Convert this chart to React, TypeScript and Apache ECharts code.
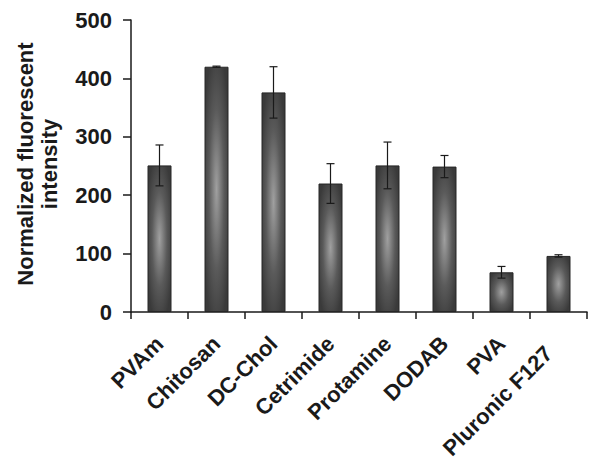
import React, { useEffect, useRef } from "react";
import * as echarts from "echarts";

const categories = ["PVAm", "Chitosan", "DC-Chol", "Cetrimide", "Protamine", "DODAB", "PVA", "Pluronic F127"];
const values = [251, 420, 376, 220, 251, 249, 68, 96];
const errors = [35, 1, 44, 34, 40, 19, 10, 2];
const yTicks = [0, 100, 200, 300, 400, 500];

export default function App() {
  const ref = useRef<HTMLDivElement>(null);
  useEffect(() => {
    if (!ref.current) return;
    const chart = echarts.init(ref.current, null, { renderer: "svg" });
    const font = "Arial, 'Liberation Sans', Helvetica, sans-serif";
    const errData = values.map((v, i) => [i, v - errors[i], v + errors[i]]);
    const catData = categories.map((c, i) =>
      i === categories.length - 1 ? { value: c, textStyle: { padding: [0, 14, 0, 0] } } : c
    );
    chart.setOption({
      animation: false,
      backgroundColor: "#ffffff",
      grid: { left: 131, right: 14, top: 20, bottom: 155, containLabel: false },
      xAxis: {
        type: "category",
        data: catData,
        axisLine: { lineStyle: { color: "#1a1a1a", width: 1.5 } },
        axisTick: { show: true, length: 7, lineStyle: { color: "#1a1a1a", width: 1.5 } },
        axisLabel: {
          rotate: 45,
          margin: 28,
          color: "#1a1a1a",
          fontFamily: font,
          fontWeight: "bold",
          fontSize: 22,
          interval: 0,
        },
      },
      yAxis: {
        type: "value",
        min: yTicks[0],
        max: yTicks[yTicks.length - 1],
        interval: 100,
        splitLine: { show: false },
        axisLine: { show: true, lineStyle: { color: "#1a1a1a", width: 1.5 } },
        axisTick: { show: true, length: 8, lineStyle: { color: "#1a1a1a", width: 1.5 } },
        axisLabel: {
          margin: 19,
          color: "#1a1a1a",
          fontFamily: font,
          fontWeight: "bold",
          fontSize: 22,
        },
      },
      graphic: [
        {
          type: "text",
          x: 37,
          y: 164,
          rotation: Math.PI / 2,
          style: {
            text: "Normalized fluorescent\nintensity",
            fill: "#1a1a1a",
            font: `bold 22px ${font}`,
            align: "center",
            verticalAlign: "middle",
            lineHeight: 24,
          },
        },
      ],
      series: [
        {
          type: "bar",
          data: values,
          barWidth: 24,
          itemStyle: {
            color: {
              type: "radial",
              x: 0.5,
              y: 0.5,
              r: 0.6,
              colorStops: [
                { offset: 0, color: "#a0a0a0" },
                { offset: 0.55, color: "#5a5a5a" },
                { offset: 1, color: "#3a3a3a" },
              ],
            },
            borderColor: "#262626",
            borderWidth: 1,
          },
        },
        {
          type: "custom",
          data: errData,
          z: 10,
          renderItem: (params: any, api: any) => {
            const x = api.value(0);
            const lo = api.coord([x, api.value(1)]);
            const hi = api.coord([x, api.value(2)]);
            const cap = 4;
            const style = { stroke: "#1a1a1a", lineWidth: 1.2 };
            return {
              type: "group",
              children: [
                { type: "line", shape: { x1: hi[0], y1: hi[1], x2: lo[0], y2: lo[1] }, style },
                { type: "line", shape: { x1: hi[0] - cap, y1: hi[1], x2: hi[0] + cap, y2: hi[1] }, style },
                { type: "line", shape: { x1: lo[0] - cap, y1: lo[1], x2: lo[0] + cap, y2: lo[1] }, style },
              ],
            };
          },
        },
      ],
    });
    return () => chart.dispose();
  }, []);
  return <div ref={ref} style={{ width: 601, height: 467, position: "absolute", left: 0, top: 0 }} />;
}
